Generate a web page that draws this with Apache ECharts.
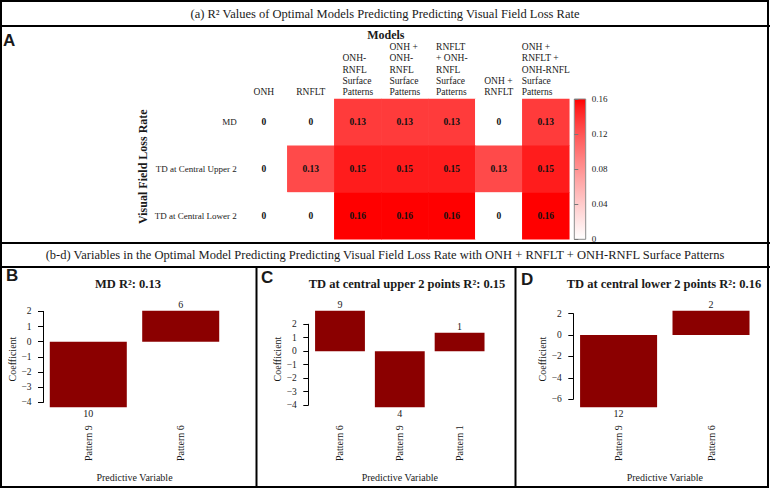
<!DOCTYPE html>
<html><head><meta charset="utf-8">
<script src="https://cdn.jsdelivr.net/npm/echarts@6/dist/echarts.min.js"></script>
<style>html,body{margin:0;padding:0;background:#fff}#c{width:770px;height:488px}</style>
</head><body><div id="c"></div>
<script>
// ---------- DATA ----------
const models = ['ONH', 'RNFLT', 'ONH-\nRNFL\nSurface\nPatterns', 'ONH +\nONH-\nRNFL\nSurface\nPatterns',
  'RNFLT\n+ ONH-\nRNFL\nSurface\nPatterns', 'ONH +\nRNFLT', 'ONH +\nRNFLT +\nONH-RNFL\nSurface\nPatterns'];
const outcomes = ['MD', 'TD at Central Upper 2', 'TD at Central Lower 2'];
const r2MD = [0, 0, 0.134, 0.134, 0.134, 0, 0.134];
const r2Upper = [0, 0.126, 0.15, 0.15, 0.15, 0.126, 0.15];
const r2Lower = [0, 0, 0.16, 0.16, 0.16, 0, 0.16];
const colorbarTicks = [0, 0.04, 0.08, 0.12, 0.16];

const bVars = ['Pattern 9', 'Pattern 6'];
const bCoef = [-4.32, 2.04];
const bCount = [10, 6];
const bTicks = [-4, -3, -2, -1, 0, 1, 2];

const cVars = ['Pattern 6', 'Pattern 9', 'Pattern 1'];
const cCoef = [3.0, -4.16, 1.37];
const cCount = [9, 4, 1];
const cTicks = [-4, -3, -2, -1, 0, 1, 2];

const dVars = ['Pattern 9', 'Pattern 6'];
const dCoef = [-6.76, 2.27];
const dCount = [12, 2];
const dTicks = [-6, -4, -2, 0, 2];

const titleA = '(a) R\u00B2 Values of Optimal Models Predicting Predicting Visual Field Loss Rate';
const titleBD = '(b-d) Variables in the Optimal Model Predicting Predicting Visual Field Loss Rate with ONH + RNFLT + ONH-RNFL Surface Patterns';
const titleB = 'MD R\u00B2: 0.13';
const titleC = 'TD at central upper 2 points R\u00B2: 0.15';
const titleD = 'TD at central lower 2 points R\u00B2: 0.16';

// ---------- CHART ----------
const SERIF = "'Liberation Serif','Times New Roman',Times,serif";
const SANS = "'Liberation Sans',Arial,Helvetica,sans-serif";
const TXT = '#1a1a1a';
const chart = echarts.init(document.getElementById('c'), null, {renderer: 'svg', width: 770, height: 488});

const heatData = [];
[r2MD, r2Upper, r2Lower].forEach((row, yi) => row.forEach((v, xi) => heatData.push([xi, yi, v])));

const stops = [];
for (let i = 0; i <= 16; i++) {
  const t = i / 16;
  const g = Math.round(255 * Math.pow(1 - t, 0.8));
  stops.push('rgb(255,' + g + ',' + g + ')');
}
const barGradient = {type: 'linear', x: 0, y: 0, x2: 0, y2: 1,
  colorStops: stops.map((c, i) => ({offset: 1 - i / (stops.length - 1), color: c})).reverse()};

const grids = [], xAxes = [], yAxes = [], series = [];

// heatmap (panel A)
grids.push({left: 240.3, top: 99, width: 329, height: 140.3});
xAxes.push({
  gridIndex: 0, type: 'category', position: 'top', data: models,
  axisLine: {show: false}, axisTick: {show: false}, splitLine: {show: false},
  axisLabel: {
    interval: 0, margin: 1.5, color: TXT, fontFamily: SERIF, fontSize: 9.5, lineHeight: 11.2,
    formatter: v => v.split('\n').map(l => '{h|' + l + '}').join('\n'),
    rich: {h: {align: 'left', fontFamily: SERIF, fontSize: 9.5, lineHeight: 11.2, color: TXT}}
  },
  name: 'Models', nameLocation: 'middle', nameGap: 55,
  nameTextStyle: {fontFamily: SERIF, fontWeight: 'bold', fontSize: 12, color: TXT, padding: [0, 38, 0, 0]}
});
yAxes.push({
  gridIndex: 0, type: 'category', inverse: true, data: outcomes,
  axisLine: {show: false}, axisTick: {show: false}, splitLine: {show: false},
  axisLabel: {margin: 3.6, fontSize: 9, color: TXT, fontFamily: SERIF},
  name: 'Visual Field Loss Rate', nameLocation: 'middle', nameGap: 91,
  nameTextStyle: {fontFamily: SERIF, fontWeight: 'bold', fontSize: 12, color: TXT, padding: [0, 0, 0, 5]}
});
series.push({
  type: 'heatmap', xAxisIndex: 0, yAxisIndex: 0, data: heatData,
  label: {show: true, fontFamily: SERIF, fontWeight: 'bold', fontSize: 9.5, color: '#111',
    formatter: p => p.value[2] === 0 ? '0' : p.value[2].toFixed(2)},
  emphasis: {disabled: true}, itemStyle: {borderWidth: 0}
});

// colorbar (legend for the visual map)
grids.push({left: 574.3, top: 99, width: 11.4, height: 140.3, show: true, borderColor: '#8c8c8c', borderWidth: 1,
  backgroundColor: barGradient});
xAxes.push({gridIndex: 1, type: 'value', show: false});
yAxes.push({
  gridIndex: 1, type: 'value', position: 'right',
  min: colorbarTicks[0], max: colorbarTicks[colorbarTicks.length - 1], interval: colorbarTicks[1] - colorbarTicks[0],
  axisLine: {show: false}, axisTick: {show: true, length: 4, lineStyle: {color: '#777'}}, splitLine: {show: false},
  axisLabel: {margin: 6, fontSize: 9, color: TXT, fontFamily: SERIF, formatter: v => v === 0 ? '0' : v.toFixed(2)}
});

// bar panels (B, C, D)
const RT = 306.9, RB = 411.2, PW = 183;
function addBarPanel(axisX, vars, coef, counts, ticks) {
  const gi = grids.length;
  const n = vars.length;
  const span = 1.2 * n - 0.2;
  const u0 = 0.2 - 0.04 * span, u1 = 1.2 * n + 0.04 * span;
  const ppu = PW / (u1 - u0);
  const off = (0.1 - u0) * ppu;
  const gridLeft = axisX + off;
  const gridWidth = 1.2 * n * ppu;
  const lo = Math.min(0, ...coef), hi = Math.max(0, ...coef);
  const ext = 0.04 * (hi - lo);
  const rLo = lo - ext, rHi = hi + ext;
  const ppv = (RB - RT) / (rHi - rLo);
  const tMin = ticks[0], tMax = ticks[ticks.length - 1];
  const gridTop = RT + (rHi - tMax) * ppv;
  const gridH = (tMax - tMin) * ppv;
  const gridBottom = gridTop + gridH;
  const shift = (gridTop + gridH / 2) - (RT + RB) / 2;
  grids.push({left: gridLeft, top: gridTop, width: gridWidth, height: gridH});
  xAxes.push({
    gridIndex: gi, type: 'category', data: vars,
    axisLine: {show: false, onZero: false}, axisTick: {show: false}, splitLine: {show: false},
    axisLabel: {interval: 0, rotate: 90, margin: RB + 14 - gridBottom, fontSize: 10, color: TXT, fontFamily: SERIF},
    name: 'Predictive Variable', nameLocation: 'middle', nameGap: 472 - gridBottom,
    nameTextStyle: {fontFamily: SERIF, fontSize: 10, color: TXT}
  });
  yAxes.push({
    gridIndex: gi, type: 'value', min: tMin, max: tMax, interval: ticks[1] - ticks[0], offset: off,
    axisLine: {show: true, lineStyle: {color: '#000', width: 1}},
    axisTick: {show: true, length: 5, lineStyle: {color: '#000', width: 1}},
    splitLine: {show: false},
    axisLabel: {margin: 11.5, fontSize: 9.5, color: TXT, fontFamily: SERIF, formatter: v => String(v).replace('-', '\u2212')},
    name: 'Coefficient', nameLocation: 'middle', nameGap: 25.5,
    nameTextStyle: {fontFamily: SERIF, fontSize: 10, color: TXT,
      padding: shift > 0 ? [0, 0, 0, 2 * shift] : [0, -2 * shift, 0, 0]}
  });
  series.push({
    type: 'bar', xAxisIndex: gi, yAxisIndex: gi, data: coef, barCategoryGap: '16.667%', clip: false,
    itemStyle: {color: '#8B0000'},
    label: {show: true, position: 'outside', distance: 1.5, fontSize: 10, color: TXT, fontFamily: SERIF,
      formatter: p => String(counts[p.dataIndex])},
    emphasis: {disabled: true}
  });
}
addBarPanel(43, bVars, bCoef, bCount, bTicks);
addBarPanel(308.3, cVars, cCoef, cCount, cTicks);
addBarPanel(573.3, dVars, dCoef, dCount, dTicks);

function txt(x, y, text, size, weight, family, align) {
  return {type: 'text', x: x, y: y, silent: true, z: 50,
    style: {text: text, fontSize: size, fontWeight: weight || 'normal', fontFamily: family || SERIF, fill: TXT,
      align: align || 'center', textAlign: align || 'center', verticalAlign: 'middle', textVerticalAlign: 'middle'}};
}
function ln(x1, y1, x2, y2) {
  return {type: 'line', silent: true, z: 40, shape: {x1: x1, y1: y1, x2: x2, y2: y2}, style: {stroke: '#000', lineWidth: 2}};
}

const graphic = [
  {type: 'rect', silent: true, z: 40, shape: {x: 1, y: 1, width: 767, height: 486}, style: {fill: 'none', stroke: '#000', lineWidth: 2}},
  ln(0, 26, 770, 26), ln(0, 243, 770, 243), ln(0, 267, 770, 267),
  ln(256.5, 267, 256.5, 488), ln(515.5, 267, 515.5, 488),
  txt(385, 13.5, titleA, 12.5),
  txt(385, 255, titleBD, 12.5),
  txt(128, 284, titleB, 12.5, 'bold'),
  txt(407, 284, titleC, 12.5, 'bold'),
  txt(664, 284, titleD, 12.5, 'bold'),
  txt(3, 40, 'A', 17, 'bold', SANS, 'left'),
  txt(6, 275, 'B', 17, 'bold', SANS, 'left'),
  txt(261, 277, 'C', 17, 'bold', SANS, 'left'),
  txt(521, 279, 'D', 17, 'bold', SANS, 'left')
];

chart.setOption({
  animation: false,
  backgroundColor: '#fff',
  textStyle: {fontFamily: SERIF},
  grid: grids, xAxis: xAxes, yAxis: yAxes, series: series,
  visualMap: {
    type: 'continuous', seriesIndex: 0, min: 0, max: 0.16, show: false,
    inRange: {color: stops}
  },
  graphic: graphic
});
</script>
</body></html>
